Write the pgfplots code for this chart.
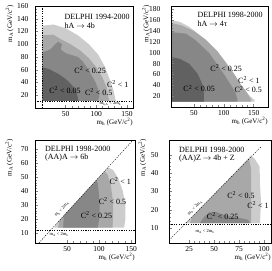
\documentclass[border=0pt]{standalone}
\usepackage{fontspec}
\setmainfont{Liberation Serif}
\usepackage{pgfplots}
\pgfplotsset{compat=1.18}
\definecolor{cA}{gray}{0.80}
\definecolor{cB}{gray}{0.66}
\definecolor{cC}{gray}{0.53}
\definecolor{cD}{gray}{0.38}
\tikzset{
  ttl/.style={font=\fontsize{8}{8.6}\selectfont, anchor=north west, inner sep=0pt, align=left},
  clab/.style={font=\fontsize{8}{9}\selectfont, inner sep=0pt},
  sml/.style={font=\fontsize{4.5}{5}\selectfont, inner sep=0pt},
}
\pgfplotsset{
  panel/.style={
    scale only axis, anchor=south west, axis on top,
    axis line style={line width=0.4pt},
    tick align=inside, xtick pos=bottom, ytick pos=left,
    major tick length=3pt, minor tick length=1.6pt,
    tick style={line width=0.3pt},
    /pgf/number format/assume math mode=true,
    tick label style={font=\fontsize{7.5}{8}\selectfont},
    yticklabel style={xshift=-3pt},
    label style={font=\fontsize{7}{8}\selectfont},
    xlabel={m\textsubscript{h} (GeV/c\textsuperscript{2})},
    ylabel={m\textsubscript{A} (GeV/c\textsuperscript{2})},
    xlabel style={at={(axis description cs:1,-0.10)},anchor=north east,inner sep=0pt},
    ylabel style={at={(axis description cs:-0.30,1.01)},anchor=north east,inner sep=0pt},
  },
  reg/.style={draw=none, fill=#1, forget plot},
  dline/.style={black, dash pattern=on 1.2pt off 1.2pt, line width=0.4pt, forget plot},
}
\begin{document}
\begin{tikzpicture}
\useasboundingbox (0pt,0pt) rectangle (272pt,270pt);
% ---------------- panel 1
\begin{axis}[panel, at={(35pt,162pt)}, width=98pt, height=102pt,
  xmin=0, xmax=160, ymin=0, ymax=160,
  xtick={50,100,150}, ytick={20,40,...,160}, minor x tick num=4, minor y tick num=3]
\addplot[reg=cA] coordinates {(12,11)(12,129)(30,131)(50,125)(70,114)(88,100)(103,84)(114,65)(122,45)(128,28)(132,11)} -- cycle;
\addplot[reg=cB] coordinates {(12,11)(12,114)(30,115)(42,108)(58,100)(74,90)(88,78)(100,64)(110,48)(117,32)(121,11)} -- cycle;
\addplot[reg=cC] coordinates {(12,11)(12,87)(25,92)(33,100)(38,104)(44,100)(42,92)(50,86)(60,83)(70,80)(78,73)(86,62)(93,50)(99,40)(104,27)(105,18)(102,11)} -- cycle;
\addplot[reg=cD] coordinates {(12,11)(12,64)(23,61)(39,53)(52,44)(62,34)(68,24)(71,11)} -- cycle;
\addplot[dline] coordinates {(12,0)(12,160)};
\addplot[dline] coordinates {(0,10.5)(160,10.5)};
\node[ttl] at (axis cs:48,147) {DELPHI 1994-2000\\hA $\rightarrow$ 4b};
\node[clab] at (axis cs:90,59) {C\textsuperscript{2} < 0.25};
\node[clab] at (axis cs:135,38) {C\textsuperscript{2} < 1};
\node[clab] at (axis cs:104,25) {C\textsuperscript{2} < 0.5};
\node[clab] at (axis cs:49,27.5) {C\textsuperscript{2} < 0.05};
\node[sml] at (axis cs:123,6) {m\textsubscript{h,A} < 2m\textsubscript{b}};
\end{axis}
% ---------------- panel 2
\begin{axis}[panel, at={(171pt,163pt)}, width=97pt, height=101pt,
  xmin=12, xmax=174, ymin=0, ymax=186,
  xtick={50,100,150}, ytick={20,40,...,180}, minor x tick num=4, minor y tick num=3,
  yticklabel style={xshift=-4pt}]
\addplot[reg=cA] coordinates {(12,10)(12,160)(26,157)(42,148)(64,129)(87,105)(103,80)(120,56)(131,37)(142,22)(151,13)(152,10)} -- cycle;
\addplot[reg=cB] coordinates {(12,10)(12,155)(30,150)(50,140)(70,124)(90,102)(105,80)(118,60)(128,42)(138,28)(145,15)(146,10)} -- cycle;
\addplot[reg=cC] coordinates {(12,10)(12,138)(37,135)(53,123)(76,99)(92,74)(103,56)(114,37)(120,25)(123,13)(123,10)} -- cycle;
\addplot[reg=cD] coordinates {(12,10)(12,92)(26,89)(42,80)(56,62)(64,43)(67,25)(67,10)} -- cycle;
\node[ttl] at (axis cs:56,175) {DELPHI 1998-2000\\hA $\rightarrow$ 4τ};
\node[clab] at (axis cs:104,71) {C\textsuperscript{2} < 0.25};
\node[clab] at (axis cs:142,50) {C\textsuperscript{2} < 1};
\node[clab] at (axis cs:141,32) {C\textsuperscript{2} < 0.5};
\node[clab] at (axis cs:59,34) {C\textsuperscript{2} < 0.05};
\end{axis}
% ---------------- panel 3
\begin{axis}[panel, at={(35pt,27pt)}, width=100pt, height=103pt,
  xmin=0, xmax=156, ymin=3, ymax=76.5,
  xtick={50,100,150}, ytick={10,20,...,70}, minor x tick num=4, minor y tick num=4]
\addplot[reg=cA] coordinates {(30,14)(33,16.5)(114,57)(122,55)(130,49)(137,40)(141,30)(141,20)(139,14)} -- cycle;
\addplot[reg=cB] coordinates {(36,14)(38,19)(108,54)(113,52)(118,45)(121,35)(122,25)(121,14)} -- cycle;
\addplot[reg=cC] coordinates {(44,14)(45,22.5)(96,48)(98,45)(100,37)(101,28)(100,20)(98,14)} -- cycle;
\addplot[dline] coordinates {(6,3)(153,76.5)};
\addplot[dline] coordinates {(0,12)(156,12)};
\node[ttl] at (axis cs:15.6,72.5) {DELPHI 1998-2000\\(AA)A $\rightarrow$ 6b};
\node[clab] at (axis cs:133,47) {C\textsuperscript{2} < 1};
\node[clab] at (axis cs:121,33) {C\textsuperscript{2} < 0.5};
\node[clab] at (axis cs:96,23) {C\textsuperscript{2} < 0.25};
\node[sml, rotate=47] at (axis cs:42,27) {m\textsubscript{h} < 2m\textsubscript{A}};
\node[sml] at (axis cs:37.5,8.8) {m\textsubscript{A} < 2m\textsubscript{b}};
\end{axis}
% ---------------- panel 4
\begin{axis}[panel, at={(169pt,27pt)}, width=102pt, height=103pt,
  xmin=5, xmax=107, ymin=1.8, ymax=58.2,
  xtick={25,50,75,100}, ytick={10,20,...,50}, minor x tick num=4, minor y tick num=4,
  yticklabel style={xshift=-4pt}]
\addplot[reg=cA] coordinates {(22,12.7)(24,13.9)(87,49.6)(90.6,48)(95.6,43.6)(96,33.6)(97,24.5)(96,12.7)} -- cycle;
\addplot[reg=cB] coordinates {(26,12.7)(28,16)(85,47.8)(87,42.7)(87,24.5)(87,12.7)} -- cycle;
\addplot[reg=cC] coordinates {(36,12.7)(40,16)(45,18.5)(52,18.8)(58,17.5)(66,16.5)(76,15.5)(84,14.5)(86,12.7)} -- cycle;
\addplot[dline] coordinates {(5,3.3)(97,54.5)};
\addplot[dline] coordinates {(5,12.2)(107,12.2)};
\node[ttl] at (axis cs:15,54.6) {DELPHI 1998-2000\\(AA)Z $\rightarrow$ 4b + Z};
\node[clab] at (axis cs:77,28) {C\textsuperscript{2} < 0.5};
\node[clab] at (axis cs:94,22.7) {C\textsuperscript{2} < 1};
\node[clab] at (axis cs:58.6,16.4) {C\textsuperscript{2} < 0.25};
\node[sml, rotate=46] at (axis cs:31,21) {m\textsubscript{h} < 2m\textsubscript{A}};
\node[sml] at (axis cs:41,8.2) {m\textsubscript{A} < 2m\textsubscript{b}};
\end{axis}
\end{tikzpicture}
\end{document}
